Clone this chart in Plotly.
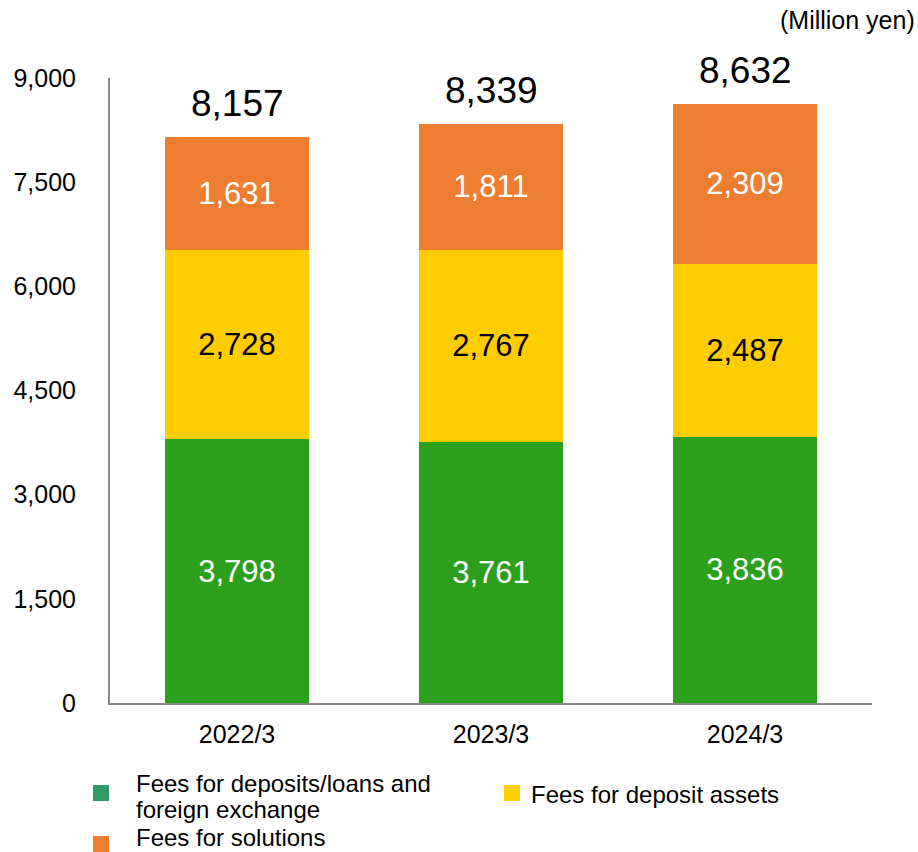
import plotly.graph_objects as go

periods = ["2022/3", "2023/3", "2024/3"]
deposits_loans_fx = [3798, 3761, 3836]
deposit_assets = [2728, 2767, 2487]
solutions = [1631, 1811, 2309]

series_names = [
    "Fees for deposits/loans and foreign exchange",
    "Fees for deposit assets",
    "Fees for solutions",
]
bar_colors = ["#2CA01C", "#FFCC00", "#ED7D31"]
legend_colors = ["#339966", "#FFCC00", "#ED7D31"]
label_colors = ["white", "black", "white"]

y_ticks = [0, 1500, 3000, 4500, 6000, 7500, 9000]

FONT = "Liberation Sans, Arial, sans-serif"
W, H = 918, 852
L, R, T, B = 110, 46, 78, 149


def px_x(x):
    return (x - L) / (W - L - R)


def px_y(y):
    return (H - B - y) / (H - B - T)


fig = go.Figure()
for vals, name, col, lcol in zip(
    [deposits_loans_fx, deposit_assets, solutions], series_names, bar_colors, label_colors
):
    fig.add_trace(go.Bar(
        x=periods, y=vals, name=name, marker=dict(color=col, line=dict(width=0)),
        text=[f"{v:,}" for v in vals], textposition="inside", insidetextanchor="middle",
        textfont=dict(family=FONT, size=31, color=lcol), textangle=0,
        showlegend=False, cliponaxis=False,
    ))

totals = [a + b + c for a, b, c in zip(deposits_loans_fx, deposit_assets, solutions)]
for p, t in zip(periods, totals):
    fig.add_annotation(x=p, y=t, text=f"{t:,}", showarrow=False, yanchor="bottom",
                       yshift=11, font=dict(family=FONT, size=37, color="black"))

# Legend drawn by hand: colour squares plus text lines
squares = [(93, 793, legend_colors[0]), (504, 793, legend_colors[1]), (93, 844, legend_colors[2])]
for sx, sy, col in squares:
    fig.add_shape(type="rect", xref="paper", yref="paper",
                  x0=px_x(sx), x1=px_x(sx + 16), y0=px_y(sy + 8), y1=px_y(sy - 8),
                  fillcolor=col, line=dict(width=0))

legend_lines = [
    (135, 783, "Fees for deposits/loans and"),
    (135, 809, "foreign exchange"),
    (530, 794, series_names[1]),
    (135, 837, series_names[2]),
]
for tx, ty, txt in legend_lines:
    fig.add_annotation(xref="paper", yref="paper", x=px_x(tx), y=px_y(ty),
                       text=txt, showarrow=False, xanchor="left", yanchor="middle", align="left",
                       borderpad=0, font=dict(family=FONT, size=24, color="black"))

fig.add_annotation(xref="paper", yref="paper", x=px_x(916), y=px_y(20),
                   text="(Million yen)", showarrow=False, xanchor="right", yanchor="middle",
                   borderpad=0, font=dict(family=FONT, size=25, color="black"))

fig.update_layout(
    barmode="stack", bargap=0.43,
    width=W, height=H,
    margin=dict(l=L, r=R, t=T, b=B, autoexpand=False),
    plot_bgcolor="white", paper_bgcolor="white",
    font=dict(family=FONT, size=25, color="black"),
    xaxis=dict(showline=True, linecolor="#888888", linewidth=2, ticks="", automargin=False,
               tickfont=dict(size=25), showgrid=False, ticklabelstandoff=8),
    yaxis=dict(range=[0, 9000], tickvals=y_ticks, tickformat=",", showline=True, automargin=False,
               linecolor="#888888", linewidth=2, showgrid=False, ticks="",
               tickfont=dict(size=25), ticklabelstandoff=27),
)

fig.write_html("out.html")
